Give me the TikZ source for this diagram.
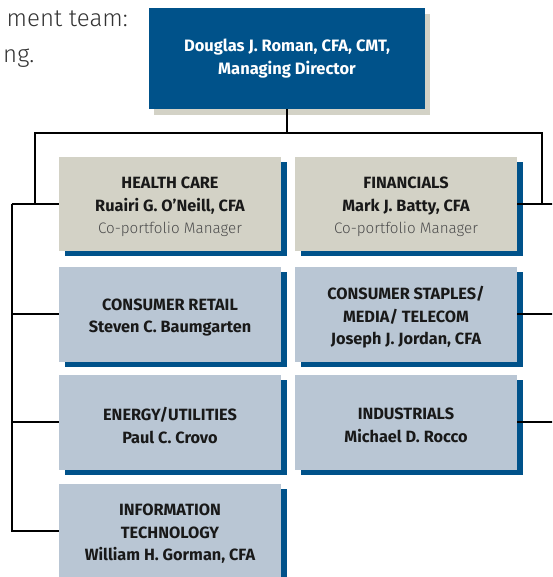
\documentclass[tikz,border=0pt]{standalone}
\usepackage{fontspec}
\setmainfont{Fira Sans}
\newfontfamily\lightfont{Fira Sans Light}
\usetikzlibrary{shadows}
\definecolor{ubsblue}{HTML}{00528A}
\definecolor{paleblue}{HTML}{B9C6D4}
\definecolor{beige}{HTML}{D3D2C6}
\definecolor{subgray}{HTML}{4D4D4D}
\definecolor{intro}{HTML}{333333}
\tikzset{
  sector/.style={rectangle, inner sep=0pt, minimum width=222pt, minimum height=94.5pt,
    general shadow={fill=ubsblue, shadow xshift=5.5pt, shadow yshift=-5pt}},
  sectortext/.style={inner sep=0pt, align=center, text=black!90, yshift=-3pt,
    font=\fontsize{16.3}{22.5}\selectfont\bfseries},
  bluesector/.style={sector, fill=paleblue},
  cosector/.style={sector, fill=beige},
  headbox/.style={rectangle, inner sep=0pt, minimum width=276pt, minimum height=101pt,
    fill=ubsblue, text=white, align=center, font=\fontsize{16.5}{23}\selectfont\bfseries,
    general shadow={fill=beige, shadow xshift=5pt, shadow yshift=-6pt}},
  link/.style={line width=1.8pt, black},
  introtext/.style={inner sep=0pt, text=intro, font=\lightfont\fontsize{24}{28}\selectfont}
}
\newcommand{\cosub}[1]{{\lightfont\mdseries\fontsize{15.2}{22.5}\selectfont\color{subgray}#1}}
\begin{document}
\begin{tikzpicture}[x=1pt,y=-1pt]
\useasboundingbox (0,0) rectangle (552,577);
\clip (0,0) rectangle (552,577);
\node[introtext, anchor=base east] (intro1) at (128,26.7) {ment team:};
\node[introtext, anchor=base east] (intro2) at (34.5,62.7) {ng.};
\node[headbox] (head) at (287,58.5) {Douglas J. Roman, CFA, CMT,\\Managing Director};
\node[cosector, label={[sectortext]center:{HEALTH CARE\\Ruairi G. O’Neill, CFA\\\cosub{Co-portfolio Manager}}}] (hc) at (170,204) {};
\node[cosector, label={[sectortext]center:{FINANCIALS\\Mark J. Batty, CFA\\\cosub{Co-portfolio Manager}}}] (fin) at (406,204) {};
\node[bluesector, label={[sectortext]center:{CONSUMER RETAIL\\Steven C. Baumgarten}}] (cr) at (170,314.3) {};
\node[bluesector, label={[sectortext]center:{CONSUMER STAPLES/\\MEDIA/ TELECOM\\Joseph J. Jordan, CFA}}] (cs) at (406,314.3) {};
\node[bluesector, label={[sectortext]center:{ENERGY/UTILITIES\\Paul C. Crovo}}] (eu) at (170,422.3) {};
\node[bluesector, label={[sectortext]center:{INDUSTRIALS\\Michael D. Rocco}}] (ind) at (406,422.3) {};
\node[bluesector, label={[sectortext]center:{INFORMATION\\TECHNOLOGY\\William H. Gorman, CFA}}] (it) at (170,531) {};
\coordinate (busL) at (35,133);
\coordinate (busR) at (541.7,133);
\coordinate (spine) at (11.7,204);
\draw[link] (head.south) -- (head.south |- busL);
\draw[link, line cap=rect] (busL) -- (busR);
\draw[link] (busL) -- (busL |- hc.west);
\draw[link] (spine) -- (hc.west);
\draw[link] (spine) |- (cr.west);
\draw[link] (spine) |- (eu.west);
\draw[link] (spine) |- (it.west);
\draw[link] (busR) |- (fin.east);
\draw[link] (fin.east) -- ++(45,0);
\draw[link] (cs.east) -- ++(45,0);
\draw[link] (ind.east) -- ++(45,0);
\end{tikzpicture}
\end{document}
